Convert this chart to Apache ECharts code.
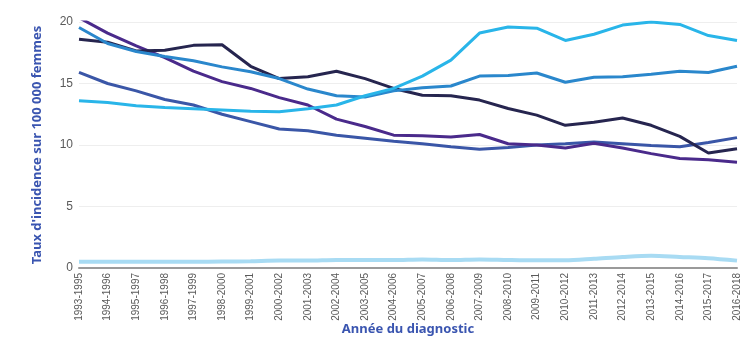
<!DOCTYPE html>
<html><head><meta charset="utf-8">
<script src="https://cdn.jsdelivr.net/npm/echarts@6/dist/echarts.min.js"></script>
<style>html,body{margin:0;padding:0;background:#fff}#c{width:756px;height:355px}</style>
</head><body><div id="c"></div>
<script>
const categories = ["1993-1995","1994-1996","1995-1997","1996-1998","1997-1999","1998-2000","1999-2001","2000-2002","2001-2003","2002-2004","2003-2005","2004-2006","2005-2007","2006-2008","2007-2009","2008-2010","2009-2011","2010-2012","2011-2013","2012-2014","2013-2015","2014-2016","2015-2017","2016-2018"];
const seriesCyan = [13.6,13.45,13.2,13.05,12.95,12.85,12.75,12.7,12.95,13.25,14.0,14.6,15.6,16.9,19.1,19.6,19.5,18.5,19.0,19.75,20.0,19.8,18.9,18.5];
const seriesMidBlue = [19.55,18.25,17.6,17.2,16.85,16.35,15.95,15.4,14.55,14.0,13.9,14.4,14.65,14.8,15.6,15.65,15.85,15.1,15.5,15.55,15.75,16.0,15.9,16.4];
const seriesNavy = [18.6,18.35,17.65,17.7,18.1,18.15,16.4,15.4,15.55,16.0,15.4,14.6,14.05,14.0,13.65,12.97,12.43,11.6,11.85,12.2,11.6,10.7,9.35,9.7];
const seriesPurple = [20.35,19.1,18.05,17.1,16.0,15.15,14.6,13.85,13.25,12.1,11.5,10.8,10.75,10.65,10.85,10.1,10.0,9.75,10.15,9.75,9.3,8.9,8.8,8.6];
const seriesRoyal = [15.9,15.0,14.4,13.7,13.25,12.5,11.9,11.3,11.15,10.8,10.55,10.3,10.1,9.85,9.65,9.8,10.0,10.1,10.25,10.1,9.95,9.85,10.2,10.6];
const seriesPale = [0.5,0.5,0.5,0.5,0.5,0.52,0.55,0.6,0.6,0.65,0.65,0.65,0.7,0.65,0.7,0.65,0.62,0.62,0.75,0.9,1.0,0.9,0.8,0.6];
const yTicks = [0,5,10,15,20];

const colors = {cyan:'#29b5e9', mid:'#2a87cc', navy:'#26254f', purple:'#4a2a8b', royal:'#3a56a7', pale:'#a8dbf3'};
function mk(name, data, color, width, smooth){
  return {name, type:'line', data, symbol:'none', smooth:smooth||false,
    lineStyle:{width:width||3, color}, itemStyle:{color}, z: 2};
}
const chart = echarts.init(document.getElementById('c'), null, {renderer:'canvas'});
chart.setOption({
  animation:false,
  grid:{left:79, right:19, top:22, bottom:87},
  xAxis:{type:'category', data:categories, boundaryGap:false,
    name:'Année du diagnostic', nameLocation:'middle', nameGap:55, nameMoveOverlap:false,
    nameTextStyle:{color:'#3a55b0', fontSize:13, fontWeight:'bold', fontFamily:'Noto Sans'},
    axisLine:{lineStyle:{color:'#9a9a9a', width:2}},
    axisTick:{show:false},
    axisLabel:{rotate:90, interval:0, fontSize:10, color:'#5a5a5a', fontFamily:'Liberation Sans', margin:5},
    splitLine:{show:false}},
  yAxis:{type:'value', min:0, max:20, interval:5,
    name:"Taux d'incidence sur 100 000 femmes", nameLocation:'middle', nameGap:35, nameMoveOverlap:false,
    nameTextStyle:{color:'#3a55b0', fontSize:13, fontWeight:'bold', fontFamily:'Noto Sans'},
    axisLine:{show:false}, axisTick:{show:false},
    axisLabel:{fontSize:12, color:'#5a5a5a', fontFamily:'Liberation Sans', margin:6,
      formatter: v => yTicks.includes(v) ? String(v) : ''},
    splitLine:{lineStyle:{color:'#eeeeee', width:1}}},
  series:[
    mk('pale', seriesPale, colors.pale, 4, 0.3),
    mk('royal', seriesRoyal, colors.royal),
    mk('purple', seriesPurple, colors.purple),
    mk('navy', seriesNavy, colors.navy),
    mk('mid', seriesMidBlue, colors.mid),
    mk('cyan', seriesCyan, colors.cyan)
  ]
});
</script></body></html>
